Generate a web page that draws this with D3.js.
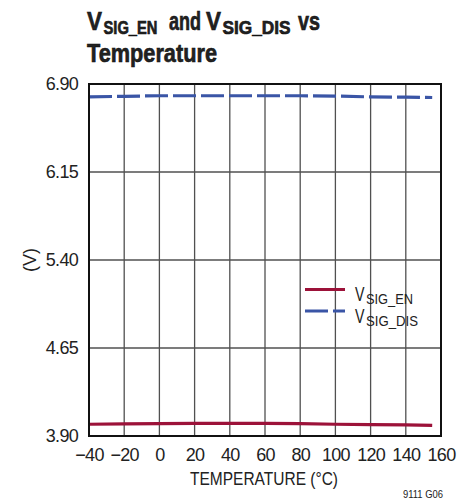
<!DOCTYPE html>
<html>
<head>
<meta charset="utf-8">
<script src="https://cdn.jsdelivr.net/npm/d3@7"></script>
<style>
body{margin:0;background:#fff}
svg{display:block}
text{font-family:"Liberation Sans",Arial,sans-serif;fill:#222}
</style>
</head>
<body>
<div id="chart"></div>
<script>
// values
var temps = [-40,-20,0,20,40,60,80,100,120,140,155]
var sigEn = [4.000,4.003,4.005,4.007,4.008,4.008,4.005,4.000,3.997,3.995,3.990]
var sigDis = [6.790,6.795,6.800,6.800,6.800,6.800,6.800,6.797,6.790,6.788,6.785]
var xTicks = [-40,-20,0,20,40,60,80,100,120,140,160]
var yTicks = [3.90,4.65,5.40,6.15,6.90]

var W=473,H=504
var padL=89,padT=84,pw=352,ph=352

var svg = d3.select("#chart").append("svg").attr("width",W).attr("height",H)

var x = d3.scaleLinear().domain([-40,160]).range([padL,padL+pw])
var y = d3.scaleLinear().domain([3.90,6.90]).range([padT+ph,padT])

// grid
svg.append("g").selectAll("line").data(xTicks.slice(1,-1)).enter().append("line")
	.attr("x1",function(d){return x(d)}).attr("x2",function(d){return x(d)})
	.attr("y1",padT).attr("y2",padT+ph)
	.attr("stroke","#505050").attr("stroke-width",1.3)
svg.append("g").selectAll("line").data(yTicks.slice(1,-1)).enter().append("line")
	.attr("y1",function(d){return y(d)}).attr("y2",function(d){return y(d)})
	.attr("x1",padL).attr("x2",padL+pw)
	.attr("stroke","#505050").attr("stroke-width",1.3)

// axes (labels only, frame drawn separately)
var xAx = svg.append("g").attr("transform","translate(0,"+(padT+ph)+")")
	.call(d3.axisBottom(x).tickValues(xTicks).tickSize(0).tickPadding(12).tickFormat(function(d){return d<0?"\u2212"+(-d):d}))
var yAx = svg.append("g").attr("transform","translate("+padL+",0)")
	.call(d3.axisLeft(y).tickValues(yTicks).tickSize(0).tickPadding(11).tickFormat(d3.format(".2f")))
;[xAx,yAx].forEach(function(a){
	a.select(".domain").remove()
	a.selectAll("text").style("font-size","18px").style("letter-spacing","-0.7px").attr("fill","#2a2a2a")
		.style("font-family","'Liberation Sans',Arial,sans-serif")
})

var line = d3.line().x(function(d){return x(d[0])}).y(function(d){return y(d[1])})

svg.append("path").datum(d3.zip(temps,sigDis)).attr("d",line)
	.attr("fill","none").attr("stroke","#3a55a6").attr("stroke-width",3.2).attr("stroke-dasharray","23,5")
svg.append("path").datum(d3.zip(temps,sigEn)).attr("d",line)
	.attr("fill","none").attr("stroke","#9c1239").attr("stroke-width",3.2)

// frame
svg.append("rect").attr("x",padL).attr("y",padT).attr("width",pw).attr("height",ph)
	.attr("fill","none").attr("stroke","#111").attr("stroke-width",2)

// text pieces with fixed widths (condensed look)
function piece(txt,px,py,size,len,bold){
	var t = svg.append("text").attr("x",px).attr("y",py).text(txt)
		.style("font-size",size+"px").attr("textLength",len).attr("lengthAdjust","spacingAndGlyphs")
	if(bold) t.style("font-weight","bold").attr("fill","#111").attr("stroke","#111").attr("stroke-width",0.6)
	return t
}

// title
piece("V",87,30,25,15,true)
piece("SIG_EN",103.5,33.5,17.5,54,true)
piece("and",169,30,25,32,true)
piece("V",206,30,25,15,true)
piece("SIG_DIS",222.5,33.5,17.5,68,true)
piece("vs",298,30,25,22,true)
piece("Temperature",87,62,25,130,true)

// legend
svg.append("line").attr("x1",305).attr("x2",345).attr("y1",289.5).attr("y2",289.5)
	.attr("stroke","#9c1239").attr("stroke-width",3.2)
svg.append("line").attr("x1",305).attr("x2",345).attr("y1",311).attr("y2",311)
	.attr("stroke","#3a55a6").attr("stroke-width",3.2).attr("stroke-dasharray","23,5")
piece("V",355,300.5,21,9.5)
piece("SIG_EN",366,304,15,47)
piece("V",355,322.5,21,9.5)
piece("SIG_DIS",366,326,15,52)

// axis titles
piece("TEMPERATURE (°C)",190,485,18,148)
svg.append("text").attr("transform","translate(36,260) rotate(-90)").attr("text-anchor","middle")
	.style("font-size","18px").text("(V)")

piece("9111 G06",403,498,10,40)
</script>
</body>
</html>
